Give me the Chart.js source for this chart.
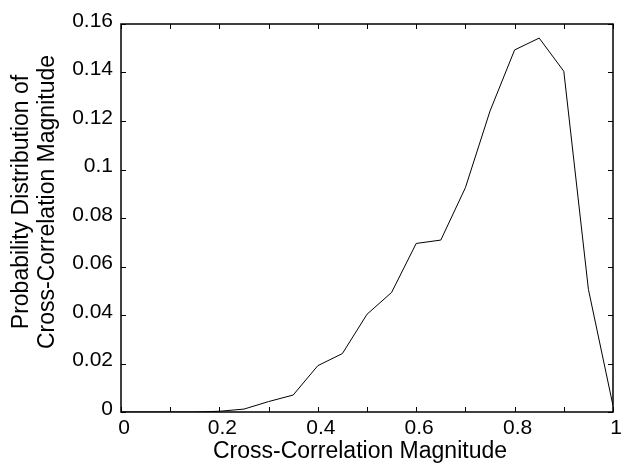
<!DOCTYPE html>
<html><head><meta charset="utf-8">
<script src="https://cdn.jsdelivr.net/npm/chart.js@4/dist/chart.umd.min.js"></script>
<style>html,body{margin:0;padding:0;background:#fff}#c{display:block}</style>
</head><body>
<canvas id="c" width="626" height="463"></canvas>
<script>
const xValues = [0,0.05,0.1,0.15,0.2,0.25,0.3,0.35,0.4,0.45,0.5,0.55,0.6,0.65,0.7,0.75,0.8,0.85,0.9,0.95,1.0];
const probValues = [0,0,0,0,0.0003,0.0012,0.0043,0.0070,0.0191,0.0241,0.0403,0.0493,0.0695,0.0709,0.0925,0.1241,0.1493,0.1542,0.1405,0.0506,0.0026];
const xTickLabels = ['0','0.2','0.4','0.6','0.8','1'];
const yTickLabels = ['0','0.02','0.04','0.06','0.08','0.1','0.12','0.14','0.16'];
const xTitle = 'Cross-Correlation Magnitude';
const yTitle = ['Probability Distribution of','Cross-Correlation Magnitude'];

const FONT = 'Liberation Sans, Arial, Helvetica, sans-serif';

const inwardTicks = {
  id: 'inwardTicks',
  afterDatasetsDraw(chart) {
    const ctx = chart.ctx, a = chart.chartArea;
    const xs = chart.scales.x, ys = chart.scales.y;
    ctx.save();
    ctx.strokeStyle = '#000';
    ctx.lineWidth = 1;
    ctx.beginPath();
    xs.ticks.forEach(t => {
      const p = Math.round(xs.getPixelForValue(t.value)) + 0.5;
      ctx.moveTo(p, a.bottom); ctx.lineTo(p, a.bottom - 5);
      ctx.moveTo(p, a.top); ctx.lineTo(p, a.top + 5);
    });
    ys.ticks.forEach(t => {
      const p = Math.round(ys.getPixelForValue(t.value)) + 0.5;
      ctx.moveTo(a.left, p); ctx.lineTo(a.left + 5, p);
      ctx.moveTo(a.right, p); ctx.lineTo(a.right - 5, p);
    });
    ctx.stroke();
    ctx.lineWidth = 1.5;
    ctx.strokeRect(a.left, a.top, a.right - a.left, a.bottom - a.top);

    // axis titles
    ctx.fillStyle = '#000';
    ctx.font = '23px ' + FONT;
    ctx.textAlign = 'center';
    ctx.textBaseline = 'middle';
    ctx.fillText(xTitle, a.left + (a.right - a.left) / 2 - 7, 452);
    ctx.translate(0, a.top + (a.bottom - a.top) / 2 - 16);
    ctx.rotate(-Math.PI / 2);
    ctx.fillText(yTitle[0], 0, 22);
    ctx.fillText(yTitle[1], 0, 48);
    ctx.restore();
  }
};

new Chart(document.getElementById('c'), {
  type: 'line',
  data: {
    datasets: [{
      data: xValues.map((x, i) => ({x: x, y: probValues[i]})),
      borderColor: '#000',
      borderWidth: 1,
      pointRadius: 0,
      tension: 0,
      fill: false
    }]
  },
  options: {
    responsive: false,
    animation: false,
    layout: { padding: { top: 24, right: 13, left: 0, bottom: 0 } },
    plugins: { legend: { display: false }, tooltip: { enabled: false } },
    scales: {
      x: {
        type: 'linear', min: 0, max: 1,
        grid: { display: false, drawTicks: false },
        border: { display: false },
        ticks: {
          stepSize: 0.1, autoSkip: false, maxRotation: 0, padding: 4, labelOffset: 3,
          color: '#000', font: { family: FONT, size: 21 },
          callback: (v) => {
            const k = Math.round(v * 10);
            return k % 2 === 0 ? xTickLabels[k / 2] : '';
          }
        },
        title: { display: false },
        afterFit: (s) => { s.height = 51; }
      },
      y: {
        type: 'linear', min: 0, max: 0.16,
        grid: { display: false, drawTicks: false },
        border: { display: false },
        ticks: {
          stepSize: 0.02, autoSkip: false, padding: 8, labelOffset: -3,
          color: '#000', font: { family: FONT, size: 21 },
          callback: (v) => yTickLabels[Math.round(v / 0.02)]
        },
        title: { display: false },
        afterFit: (s) => { s.width = 121; }
      }
    }
  },
  plugins: [inwardTicks]
});
</script>
</body></html>
